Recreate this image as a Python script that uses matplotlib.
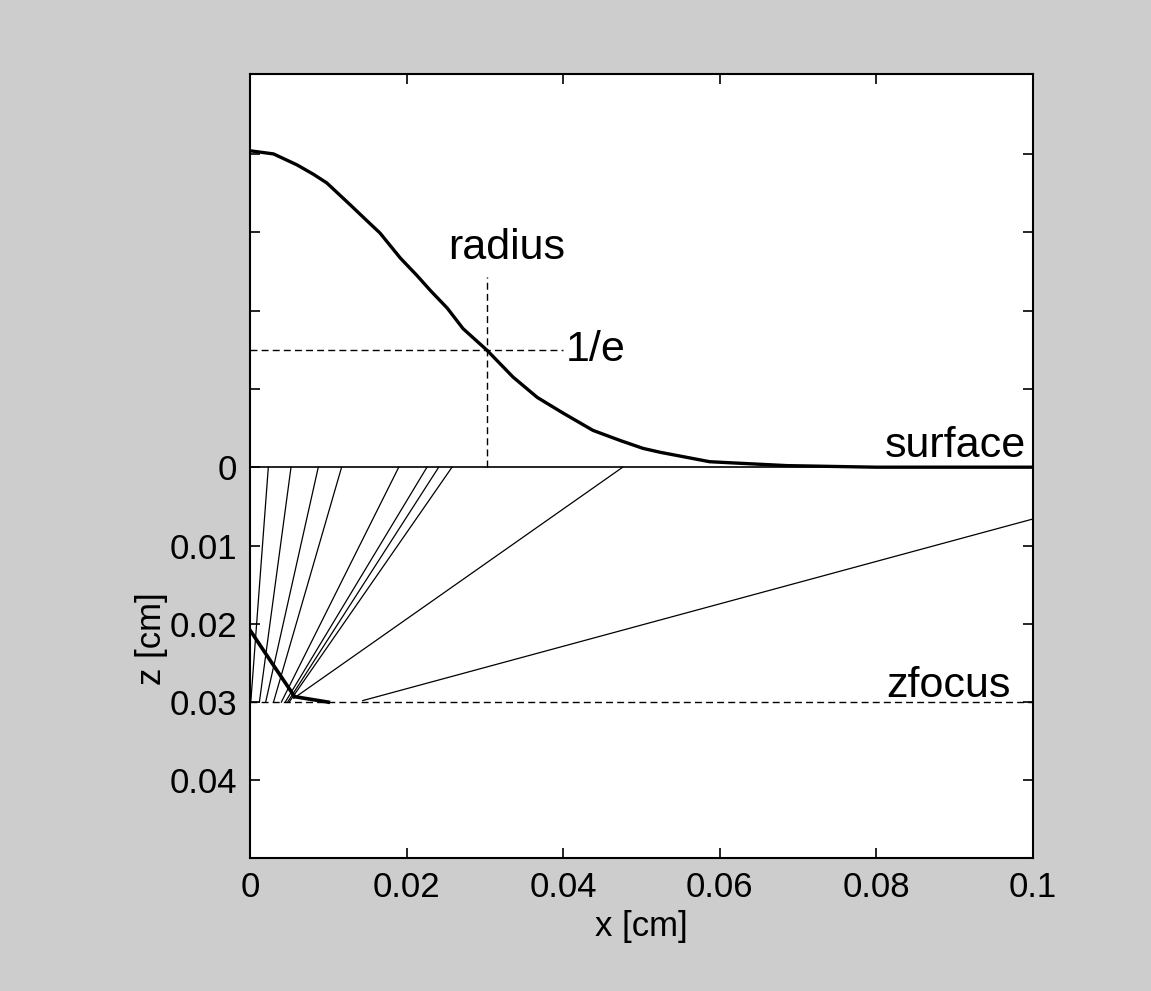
import numpy as np
import matplotlib
matplotlib.use("Agg")
import matplotlib.pyplot as plt

# beam profile above the surface (drawn as negative z)
prof_x = [0, 0.003, 0.006, 0.0081, 0.0098, 0.0128, 0.0149, 0.0166, 0.0192, 0.0213, 0.023,
          0.0252, 0.0272, 0.0303, 0.0336, 0.0367, 0.040, 0.0438, 0.0473, 0.0502, 0.0524,
          0.0587, 0.0626, 0.0686, 0.08, 0.1]
prof_z = [-0.0404, -0.0400, -0.0386, -0.0374, -0.0363, -0.0335, -0.0315, -0.0299, -0.0267, -0.0245, -0.0226,
          -0.0203, -0.0177, -0.0149, -0.0115, -0.0089, -0.0069, -0.0047, -0.0034, -0.0024, -0.0019,
          -0.0007, -0.0005, -0.0002, 0.0, 0.0]

# rays: start on surface, end near focus plane
ray_x0 = [0.00234, 0.00524, 0.00872, 0.0117, 0.0190, 0.0226, 0.0241, 0.0258, 0.0476, 0.1244]
ray_z0 = [0, 0, 0, 0, 0, 0, 0, 0, 0, 0]
ray_x1 = [0.0001, 0.0012, 0.0020, 0.0030, 0.0040, 0.0045, 0.0048, 0.0050, 0.0056, 0.0144]
ray_z1 = [0.030, 0.030, 0.030, 0.030, 0.030, 0.030, 0.030, 0.030, 0.0295, 0.0298]

# thick locus near the focus
foc_x = [0, 0.0028, 0.0057, 0.0100]
foc_z = [0.0208, 0.0250, 0.0293, 0.0300]

radius = 0.0303
level = -0.0149
zfocus = 0.03

xticks = [0, 0.02, 0.04, 0.06, 0.08, 0.1]
xlabels = ["0", "0.02", "0.04", "0.06", "0.08", "0.1"]
yticks = [-0.04, -0.03, -0.02, -0.01, 0, 0.01, 0.02, 0.03, 0.04]
ylabels = ["", "", "", "", "0", "0.01", "0.02", "0.03", "0.04"]

fnt = ["Liberation Sans", "DejaVu Sans"]

fig = plt.figure(figsize=(11.51, 9.91), dpi=100, facecolor="#cdcdcd")
ax = fig.add_axes([0.2172, 0.1342, 0.6803, 0.7911])
ax.set_facecolor("white")

ax.plot(prof_x, prof_z, color="black", lw=2.4, solid_joinstyle="round")
ax.plot([0, 0.1], [0, 0], color="black", lw=1.2)

for i in range(len(ray_x0)):
    ax.plot([ray_x0[i], ray_x1[i]], [ray_z0[i], ray_z1[i]], color="black", lw=0.9)

ax.plot(foc_x, foc_z, color="black", lw=2.6)

ax.plot([0, 0.1], [zfocus, zfocus], color="black", lw=1.0, ls=(0, (5, 3)))
ax.plot([0, 0.040], [level, level], color="black", lw=1.0, ls=(0, (5, 3)))
ax.plot([radius, radius], [0, -0.0243], color="black", lw=1.0, ls=(0, (5, 3)))

ax.text(0.0328, -0.0266, "radius", fontsize=31, ha="center", va="baseline", family=fnt)
ax.text(0.0403, level, "1/e", fontsize=31, ha="left", va="center", family=fnt)
ax.text(0.0991, -0.0013, "surface", fontsize=31, ha="right", va="baseline", family=fnt)
ax.text(0.0972, 0.0294, "zfocus", fontsize=31, ha="right", va="baseline", family=fnt)

ax.set_xlim(0, 0.1)
ax.set_ylim(0.0499, -0.0502)
ax.set_xticks(xticks)
ax.set_xticklabels(xlabels, family=fnt, fontsize=25)
ax.set_yticks(yticks)
ax.set_yticklabels(ylabels, family=fnt, fontsize=25)
ax.tick_params(direction="in", length=7, width=1.2, top=True, right=True, pad=9)
for s in ax.spines.values():
    s.set_linewidth(1.5)

ax.set_xlabel("x [cm]", family=fnt, fontsize=25, labelpad=5)
ax.set_ylabel("z [cm]", family=fnt, fontsize=25)
ax.yaxis.set_label_coords(-0.105, 0.28)

fig.savefig("out.png", dpi=100, facecolor=fig.get_facecolor())
